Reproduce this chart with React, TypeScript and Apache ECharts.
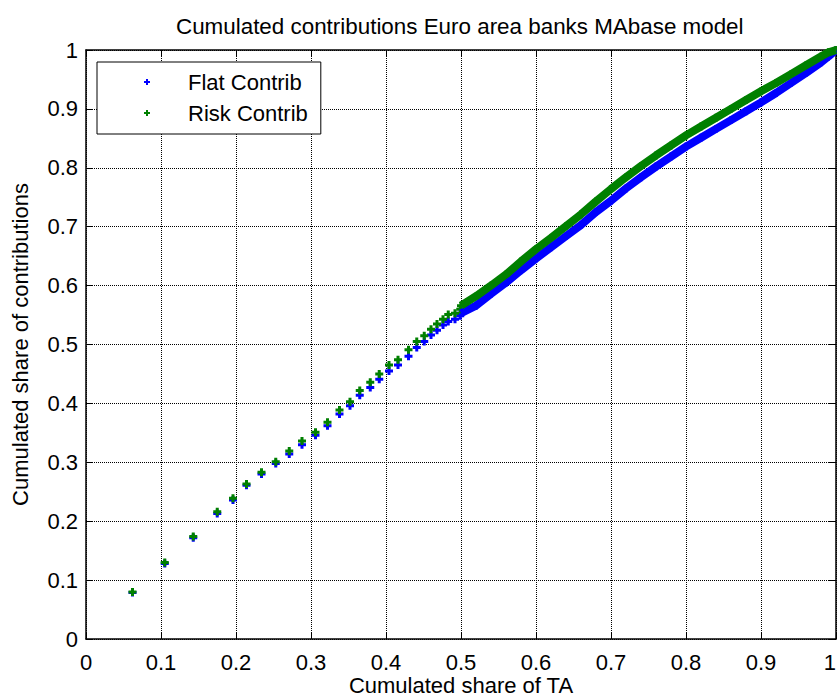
import React, { useEffect, useRef } from "react";
import * as echarts from "echarts";

// Sparse region (individual markers), shared x = cumulated share of TA
const sparseX = [0.062, 0.105, 0.143, 0.175, 0.196, 0.214, 0.234, 0.253, 0.271, 0.288, 0.306, 0.322, 0.338, 0.352, 0.365, 0.379, 0.391, 0.404, 0.416, 0.430, 0.441, 0.451, 0.460, 0.468, 0.476, 0.483, 0.492, 0.499];
const sparseFlat = [0.079, 0.128, 0.172, 0.213, 0.236, 0.261, 0.280, 0.298, 0.314, 0.330, 0.346, 0.362, 0.382, 0.396, 0.414, 0.427, 0.441, 0.455, 0.465, 0.480, 0.495, 0.505, 0.516, 0.524, 0.533, 0.539, 0.543, 0.549];
const sparseRisk = [0.080, 0.130, 0.174, 0.216, 0.239, 0.263, 0.283, 0.301, 0.319, 0.336, 0.351, 0.368, 0.389, 0.403, 0.422, 0.436, 0.450, 0.465, 0.474, 0.491, 0.505, 0.515, 0.526, 0.535, 0.543, 0.551, 0.553, 0.560];

// Dense region (markers merge into a band)
const denseX = [0.50, 0.52, 0.54, 0.56, 0.58, 0.60, 0.62, 0.64, 0.66, 0.68, 0.70, 0.72, 0.74, 0.76, 0.78, 0.80, 0.82, 0.84, 0.86, 0.88, 0.90, 0.92, 0.94, 0.96, 0.98, 0.99, 1.00];
const denseFlat = [0.553, 0.566, 0.586, 0.605, 0.626, 0.646, 0.665, 0.684, 0.703, 0.725, 0.744, 0.765, 0.784, 0.802, 0.819, 0.836, 0.851, 0.866, 0.881, 0.896, 0.911, 0.927, 0.944, 0.961, 0.979, 0.989, 1.000];
const denseRisk = [0.566, 0.582, 0.600, 0.619, 0.641, 0.662, 0.681, 0.701, 0.721, 0.743, 0.764, 0.784, 0.803, 0.821, 0.838, 0.855, 0.870, 0.885, 0.900, 0.915, 0.930, 0.944, 0.959, 0.974, 0.989, 0.996, 1.000];

const seriesNames = ["Flat Contrib", "Risk Contrib"];
const titleText = "Cumulated contributions Euro area banks MAbase model";
const xName = "Cumulated share of TA";
const yName = "Cumulated share of contributions";

const FONT = "'Liberation Sans', Arial, Helvetica, sans-serif";
const PLUS = "path://M2.5,0H5.5V2.5H8V5.5H5.5V8H2.5V5.5H0V2.5H2.5Z";
// legend icon: plus centred in a 72x7 box (lone moveTo points fix the box)
const LEGEND_PLUS = "path://M0,0M72,7M35,0.5H37V2.5H39V4.5H37V6.5H35V4.5H33V2.5H35Z";
const BLUE = "#0000ff";
const GREEN = "#008000";

function pts(xs: number[], ys: number[]) {
  return xs.map((x, i) => [x, ys[i]]);
}

export default function App() {
  const ref = useRef<HTMLDivElement>(null);
  useEffect(() => {
    if (!ref.current) return;
    const chart = echarts.init(ref.current, undefined, { renderer: "svg" });
    const flatAll = pts(sparseX, sparseFlat).concat(pts(denseX, denseFlat));
    const riskAll = pts(sparseX, sparseRisk).concat(pts(denseX, denseRisk));
    const gridLine = { show: true, lineStyle: { color: "#000", type: [1, 1] as any, width: 1 } };
    const axisLine = { show: true, onZero: false, lineStyle: { color: "#000", width: 1.5 } };
    const tick = { show: true, inside: true, length: 7, lineStyle: { color: "#000", width: 1 } };
    chart.setOption({
      animation: false,
      backgroundColor: "#fff",
      textStyle: { fontFamily: FONT },
      title: {
        text: titleText,
        left: 171,
        top: 10,
        textStyle: { fontSize: 22.4, fontWeight: "normal", color: "#000", fontFamily: FONT },
      },
      grid: { left: 86, right: 1, top: 50, bottom: 58, containLabel: false, outerBoundsMode: "none" },
      legend: {
        data: seriesNames.map((n) => ({ name: n, icon: LEGEND_PLUS })),
        orient: "vertical",
        left: 97,
        top: 62,
        padding: [9, 13, 10, 14],
        itemWidth: 72,
        itemHeight: 7,
        itemGap: 9,
        backgroundColor: "#fff",
        borderColor: "#000",
        borderWidth: 1,
        borderRadius: 0,
        textStyle: { fontSize: 22, lineHeight: 22, color: "#000", fontFamily: FONT },
      },
      xAxis: [
        {
          type: "value", min: 0, max: 1, interval: 0.1,
          name: xName, nameLocation: "middle", nameGap: 35, nameMoveOverlap: false,
          nameTextStyle: { fontSize: 22, lineHeight: 22, color: "#000", fontFamily: FONT },
          axisLine, axisTick: tick, splitLine: gridLine,
          axisLabel: { fontSize: 22, color: "#000", margin: 12, fontFamily: FONT, alignMaxLabel: "right" },
        },
        {
          type: "value", min: 0, max: 1, interval: 0.1, position: "top",
          axisLine, axisTick: tick, splitLine: { show: false }, axisLabel: { show: false },
        },
      ],
      yAxis: [
        {
          type: "value", min: 0, max: 1, interval: 0.1,
          name: yName, nameLocation: "middle", nameGap: 55, nameMoveOverlap: false,
          nameTextStyle: { fontSize: 22, color: "#000", fontFamily: FONT },
          axisLine, axisTick: tick, splitLine: gridLine,
          axisLabel: { fontSize: 22, color: "#000", margin: 8, fontFamily: FONT },
        },
        {
          type: "value", min: 0, max: 1, interval: 0.1, position: "right",
          axisLine, axisTick: tick, splitLine: { show: false }, axisLabel: { show: false },
        },
      ],
      series: [
        {
          type: "line", name: "Flat band", data: pts(denseX, denseFlat),
          symbol: "none", showSymbol: false, silent: true,
          lineStyle: { color: BLUE, width: 8 }, itemStyle: { color: BLUE },
        },
        {
          type: "scatter", name: seriesNames[0], data: flatAll,
          symbol: PLUS, symbolSize: 8, symbolKeepAspect: true,
          itemStyle: { color: BLUE, opacity: 1 },
        },
        {
          type: "line", name: "Risk band", data: pts(denseX, denseRisk),
          symbol: "none", showSymbol: false, silent: true,
          lineStyle: { color: GREEN, width: 8 }, itemStyle: { color: GREEN },
        },
        {
          type: "scatter", name: seriesNames[1], data: riskAll,
          symbol: PLUS, symbolSize: 8, symbolKeepAspect: true,
          itemStyle: { color: GREEN, opacity: 1 },
        },
      ],
    });
    return () => chart.dispose();
  }, []);
  return (
    <div
      ref={ref}
      style={{ position: "fixed", left: 0, top: 0, width: 837, height: 697, background: "#fff" }}
    />
  );
}
